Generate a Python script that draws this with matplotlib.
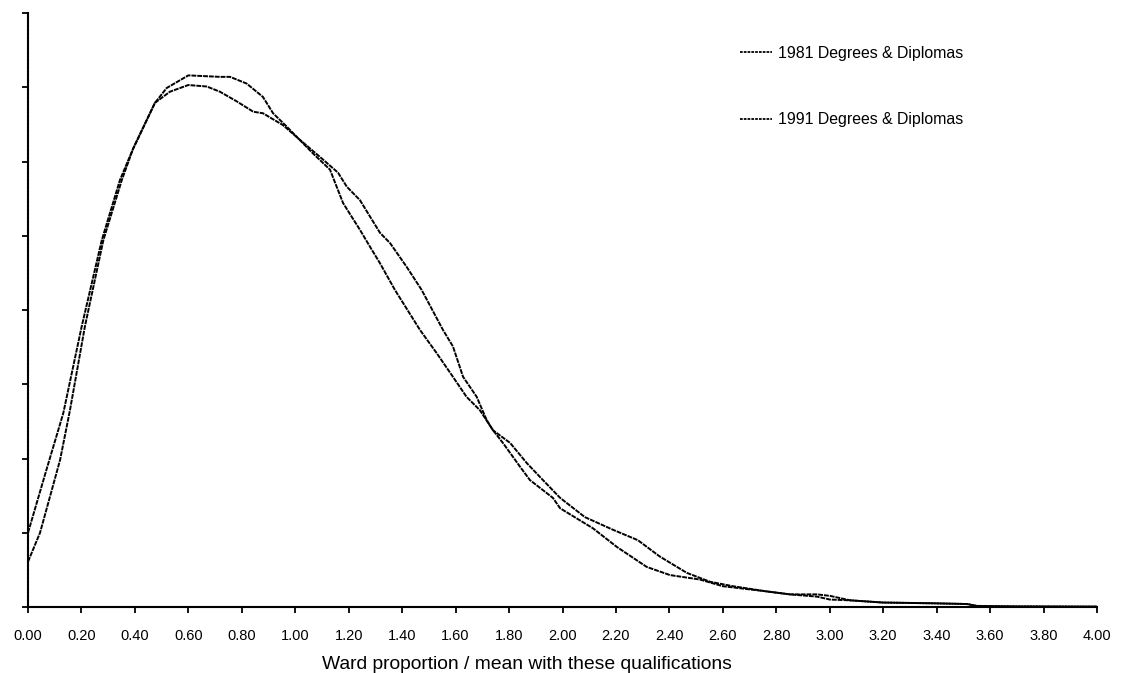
import matplotlib
matplotlib.use("Agg")
import matplotlib.pyplot as plt
from matplotlib.lines import Line2D

plt.rcParams['font.family'] = ['Liberation Sans', 'DejaVu Sans']

# Kernel density of ward proportion relative to the mean, by census year
x_1981 = [0.000, 0.070, 0.132, 0.201, 0.276, 0.344, 0.393, 0.475, 0.531, 0.600,
          0.669, 0.718, 0.781, 0.843, 0.879, 0.954, 1.018, 1.093, 1.160, 1.193,
          1.242, 1.317, 1.355, 1.417, 1.473, 1.553, 1.590, 1.628, 1.679, 1.716,
          1.740, 1.777, 1.841, 1.878, 1.964, 1.991, 2.114, 2.203, 2.315, 2.402,
          2.514, 2.600, 2.764, 2.851, 2.952, 3.001, 3.076, 3.199, 3.386, 3.514,
          3.551, 3.700, 4.000]
y_1981 = [1.00, 1.86, 2.61, 3.78, 4.94, 5.75, 6.17, 6.79, 6.94, 7.03,
          7.01, 6.94, 6.81, 6.67, 6.65, 6.49, 6.29, 6.06, 5.85, 5.66,
          5.48, 5.04, 4.90, 4.58, 4.27, 3.73, 3.51, 3.10, 2.83, 2.52,
          2.38, 2.21, 1.89, 1.71, 1.47, 1.33, 1.06, 0.81, 0.54, 0.43,
          0.37, 0.28, 0.21, 0.17, 0.14, 0.10, 0.09, 0.06, 0.05, 0.04,
          0.015, 0.008, 0.005]

x_1991 = [0.000, 0.045, 0.120, 0.157, 0.213, 0.282, 0.351, 0.393, 0.475, 0.519,
          0.600, 0.718, 0.756, 0.818, 0.879, 0.917, 0.968, 1.066, 1.130, 1.179,
          1.242, 1.280, 1.317, 1.373, 1.467, 1.529, 1.590, 1.641, 1.691, 1.740,
          1.804, 1.866, 1.916, 1.991, 2.084, 2.189, 2.282, 2.364, 2.465, 2.552,
          2.638, 2.764, 2.851, 2.952, 3.001, 3.076, 3.199, 3.386, 3.514, 3.551,
          3.700, 4.000]
y_1991 = [0.61, 1.00, 1.98, 2.65, 3.78, 4.94, 5.75, 6.17, 6.79, 6.99,
          7.16, 7.14, 7.14, 7.05, 6.87, 6.65, 6.47, 6.11, 5.89, 5.44,
          5.08, 4.85, 4.63, 4.27, 3.73, 3.42, 3.10, 2.83, 2.65, 2.38,
          2.21, 1.94, 1.75, 1.47, 1.21, 1.04, 0.90, 0.68, 0.46, 0.34,
          0.28, 0.21, 0.17, 0.17, 0.15, 0.09, 0.06, 0.05, 0.04, 0.013,
          0.008, 0.005]

labels = ["1981 Degrees & Diplomas", "1991 Degrees & Diplomas"]
x_ticks = [i * 0.2 for i in range(21)]
x_tick_labels = [f"{t:.2f}" for t in x_ticks]
y_ticks = list(range(9))
x_title = "Ward proportion / mean with these qualifications"

fig = plt.figure(figsize=(11.24, 6.73), dpi=100)
ax = fig.add_axes([28 / 1124, 66 / 673, 1069 / 1124, 594 / 673])

dash = (0, (2.5, 0.5))
ax.plot(x_1981, y_1981, color="black", lw=1.4, linestyle=dash, label=labels[0])
ax.plot(x_1991, y_1991, color="black", lw=1.4, linestyle=dash, label=labels[1])

ax.set_xlim(0, 4.0)
ax.set_ylim(0, 8)
ax.set_xticks(x_ticks)
ax.set_xticklabels(x_tick_labels, fontsize=10.5)
ax.set_yticks(y_ticks)
ax.set_yticklabels([])
ax.tick_params(axis="both", direction="out", length=4, width=1.3, color="black")
ax.tick_params(axis="x", pad=11.5)
ax.set_xlabel(x_title, fontsize=13.9)
ax.xaxis.set_label_coords(0.467, -0.082)

for side in ("top", "right"):
    ax.spines[side].set_visible(False)
for side in ("left", "bottom"):
    ax.spines[side].set_linewidth(1.5)
    ax.spines[side].set_linestyle((0, (1.2, 0.6)))

handles = [Line2D([], [], color="black", lw=1.3, linestyle=(0, (1.5, 0.6)))
           for _ in labels]
ax.legend(handles, labels, loc="upper left", bbox_to_anchor=(0.6665, 0.945),
          frameon=False, fontsize=11.4, handlelength=1.96, handletextpad=0.44,
          labelspacing=3.25, borderaxespad=0, borderpad=0)

fig.savefig("out.png", dpi=100)
